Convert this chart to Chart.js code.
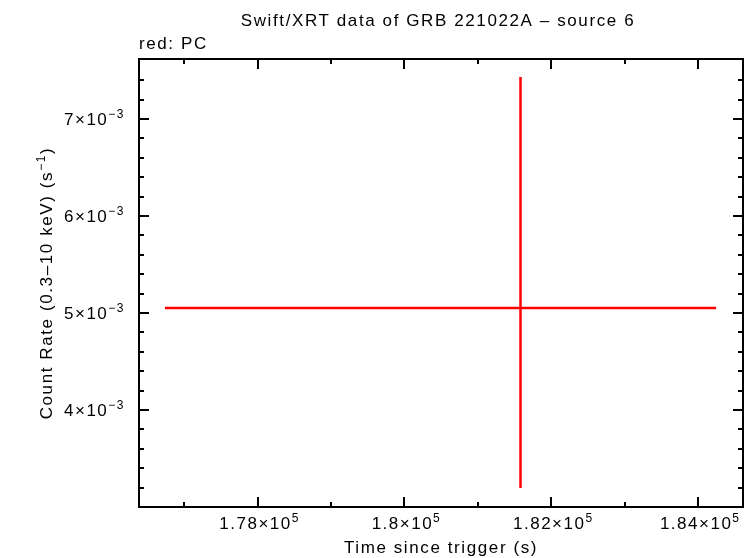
<!DOCTYPE html>
<html>
<head>
<meta charset="utf-8">
<script src="https://cdn.jsdelivr.net/npm/chart.js@4.4.1/dist/chart.umd.min.js"></script>
<style>
  html, body { margin: 0; padding: 0; background: #fff; }
  #wrap { position: relative; width: 753px; height: 558px; }
</style>
</head>
<body>
<div id="wrap"><canvas id="lc"></canvas></div>
<script>
// ── Data ─────────────────────────────────────────────────────
const times      = [181580];
const timeErrLo  = [4842];
const timeErrHi  = [2664];
const rates      = [5.052e-3];
const rateErrLo  = [1.856e-3];
const rateErrHi  = [2.381e-3];

// tick values / labels
const xMajor     = [178000, 180000, 182000, 184000];
const xMajorText = [['1.78', '5'], ['1.8', '5'], ['1.82', '5'], ['1.84', '5']];
const xMinor     = [177000, 179000, 181000, 183000];
const yMajor     = [4e-3, 5e-3, 6e-3, 7e-3];
const yMajorText = [['4', '\u22123'], ['5', '\u22123'], ['6', '\u22123'], ['7', '\u22123']];
const yMinor     = [3.2e-3, 3.4e-3, 3.6e-3, 3.8e-3, 4.2e-3, 4.4e-3, 4.6e-3, 4.8e-3,
                    5.2e-3, 5.4e-3, 5.6e-3, 5.8e-3, 6.2e-3, 6.4e-3, 6.6e-3, 6.8e-3,
                    7.2e-3, 7.4e-3];

const FONT = "'Liberation Sans', Arial, sans-serif";

// ── Error bars + frame, drawn through the chart scales ───────
const errorBars = {
  id: 'errorBars',
  afterDatasetsDraw(chart) {
    const { ctx, scales: { x, y } } = chart;
    ctx.save();
    ctx.strokeStyle = '#ff0000';
    ctx.lineWidth = 2.5;
    times.forEach((t, i) => {
      const px = x.getPixelForValue(t);
      const py = y.getPixelForValue(rates[i]);
      ctx.beginPath();
      ctx.moveTo(x.getPixelForValue(t - timeErrLo[i]), py);
      ctx.lineTo(x.getPixelForValue(t + timeErrHi[i]), py);
      ctx.moveTo(px, y.getPixelForValue(rates[i] - rateErrLo[i]));
      ctx.lineTo(px, y.getPixelForValue(rates[i] + rateErrHi[i]));
      ctx.stroke();
    });
    ctx.restore();
  },
  afterDraw(chart) {
    const { ctx, chartArea: a, scales: { x, y } } = chart;
    ctx.save();
    ctx.strokeStyle = '#000';
    ctx.lineWidth = 2;
    ctx.strokeRect(a.left, a.top, a.right - a.left, a.bottom - a.top);

    const tick = (vals, len, horiz) => {
      ctx.beginPath();
      vals.forEach(v => {
        if (horiz) {
          const p = Math.round(x.getPixelForValue(v));
          ctx.moveTo(p, a.bottom); ctx.lineTo(p, a.bottom - len);
          ctx.moveTo(p, a.top);    ctx.lineTo(p, a.top + len);
        } else {
          const p = Math.round(y.getPixelForValue(v));
          ctx.moveTo(a.left, p);  ctx.lineTo(a.left + len, p);
          ctx.moveTo(a.right, p); ctx.lineTo(a.right - len, p);
        }
      });
      ctx.stroke();
    };
    tick(xMajor, 10, true);
    tick(xMinor, 5, true);
    tick(yMajor, 10, false);
    tick(yMinor, 5, false);

    // text pieces: [string, fontSize, raise]
    const measure = parts => parts.reduce((w, p) => {
      ctx.font = p[1] + 'px ' + FONT;
      return w + ctx.measureText(p[0]).width;
    }, 0);
    const drawParts = (parts, left, base) => {
      let cx = left;
      parts.forEach(p => {
        ctx.font = p[1] + 'px ' + FONT;
        ctx.fillText(p[0], cx, base - p[2]);
        cx += ctx.measureText(p[0]).width;
      });
    };
    const drawText = (parts, cx, base, align) => {
      const w = measure(parts);
      const left = align === 'right' ? cx - w : align === 'left' ? cx : cx - w / 2;
      drawParts(parts, left, base);
    };

    ctx.fillStyle = '#000';
    ctx.textAlign = 'left';
    ctx.textBaseline = 'alphabetic';
    ctx.letterSpacing = '1.5px';
    xMajor.forEach((v, i) => {
      const [m, e] = xMajorText[i];
      drawText([[m + '\u00d710', 17, 0], [e, 12, 7]], x.getPixelForValue(v) + 2, a.bottom + 22, 'center');
    });
    yMajor.forEach((v, i) => {
      const [m, e] = yMajorText[i];
      drawText([[m + '\u00d710', 17, 0], [e, 12, 7]], a.left - 14, y.getPixelForValue(v) + 6, 'right');
    });

    // titles
    ctx.letterSpacing = '1.6px';
    drawText([['Swift/XRT data of GRB 221022A \u2013 source 6', 17, 0]], 438, 26, 'center');
    drawText([['Time since trigger (s)', 17, 0]], 441, 553, 'center');
    drawText([['red: PC', 17, 0]], a.left, 49, 'left');

    ctx.save();
    ctx.translate(52, 283);
    ctx.rotate(-Math.PI / 2);
    drawText([['Count Rate (0.3\u201310 keV) (s', 17, 0], ['\u22121', 12, 7], [')', 17, 0]], 0, 0, 'center');
    ctx.restore();

    ctx.restore();
  }
};

// ── Chart setup ──────────────────────────────────────────────
const ctx = document.getElementById('lc').getContext('2d');

new Chart(ctx, {
  type: 'scatter',
  data: {
    datasets: [{
      label: 'PC',
      data: times.map((t, i) => ({ x: t, y: rates[i] })),
      pointRadius: 0,
      showLine: false,
    }],
  },
  options: {
    responsive: true,
    maintainAspectRatio: false,
    animation: false,
    layout: { padding: { left: 139, right: 10, top: 59, bottom: 51 } },
    scales: {
      x: { type: 'linear', min: 176385, max: 184610, display: false },
      y: { type: 'linear', min: 3.0e-3, max: 7.619e-3, display: false },
    },
    plugins: {
      legend: { display: false },
      tooltip: { enabled: false },
    },
  },
  plugins: [errorBars],
});
</script>
</body>
</html>
